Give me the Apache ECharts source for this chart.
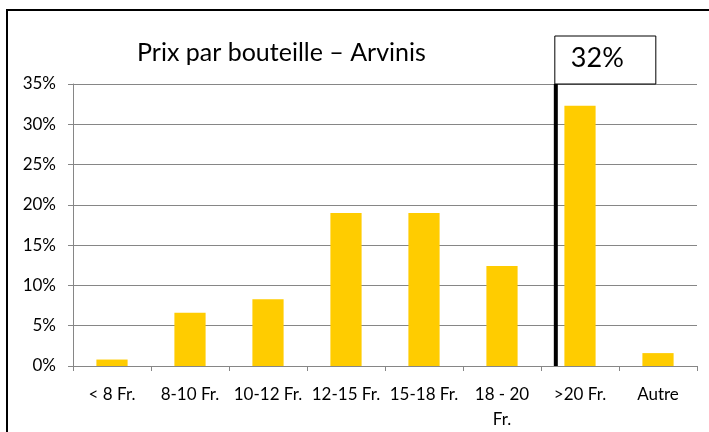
<!DOCTYPE html>
<html lang="fr">
<head>
    <meta charset="UTF-8">
    <title>Prix par bouteille</title>
    <style>
        html, body { margin: 0; padding: 0; background: #fff; }
        #chart1 { width: 709px; height: 432px; }
    </style>
</head>
<body>
<script src="https://cdn.jsdelivr.net/npm/echarts@6/dist/echarts.min.js"></script>
<div id="chart1"></div>
<script type="text/javascript">
    // données
    var categories = ['< 8 Fr.', '8-10 Fr.', '10-12 Fr.', '12-15 Fr.', '15-18 Fr.', '18 - 20\nFr.', '>20 Fr.', 'Autre'];
    var parts = [0.8, 6.6, 8.3, 19.0, 19.0, 12.4, 32.3, 1.6];
    var yTicks = [0, 5, 10, 15, 20, 25, 30, 35];
    // repère vertical (position sur l'axe des catégories, 0..8)
    var markerPos = [6.19];
    var markerText = '32%';

    var grid = { left: 73, right: 12, top: 84, bottom: 65 };
    var myChart1 = echarts.init(document.getElementById('chart1'));

    myChart1.setOption({
        textStyle: { fontFamily: 'Lato' },
        title: {
            text: 'Prix par bouteille \u2013 Arvinis',
            left: 132,
            top: 35,
            textStyle: { fontFamily: 'Lato', fontSize: 25, fontWeight: 'normal', color: '#000' }
        },
        grid: grid,
        xAxis: [{
            type: 'category',
            data: categories,
            axisLine: { lineStyle: { color: '#868686', width: 1 } },
            axisTick: { show: true, length: 5, lineStyle: { color: '#868686' } },
            axisLabel: { color: '#000', fontSize: 17, margin: 16, lineHeight: 25, interval: 0 }
        }, {
            type: 'value',
            min: 0,
            max: 8,
            show: false
        }],
        yAxis: {
            type: 'value',
            min: 0,
            max: 35,
            interval: 5,
            axisLine: { show: true, lineStyle: { color: '#868686' } },
            axisTick: { show: true, length: 5, lineStyle: { color: '#868686' } },
            axisLabel: {
                color: '#000',
                fontSize: 17,
                margin: 17,
                formatter: function (v) { return yTicks.indexOf(v) >= 0 ? v + '%' : ''; }
            },
            splitLine: { lineStyle: { color: '#868686', width: 1 } }
        },
        series: [{
            name: 'Prix',
            type: 'bar',
            data: parts,
            barWidth: '40%',
            itemStyle: { color: '#ffcc00' }
        }, {
            name: 'repere',
            type: 'line',
            xAxisIndex: 1,
            data: [[markerPos[0], 0], [markerPos[0], 35]],
            symbol: 'none',
            lineStyle: { color: '#000', width: 4 },
            z: 5
        }]
    });

    // cadre extérieur + étiquette 32% posée au sommet du repère
    var pt = myChart1.convertToPixel({ seriesIndex: 1 }, [markerPos[0], 35]);
    myChart1.setOption({
        graphic: [{
            type: 'rect',
            shape: { x: 7, y: 10, width: 720, height: 440 },
            style: { fill: 'none', stroke: '#000', lineWidth: 2 },
            silent: true
        }, {
            type: 'rect',
            shape: { x: pt[0] - 1, y: pt[1] - 48, width: 101, height: 48 },
            style: { fill: '#fff', stroke: '#000', lineWidth: 1 },
            z: 10
        }, {
            type: 'text',
            x: pt[0] + 15,
            y: pt[1] - 39,
            style: { text: markerText, fontFamily: 'Lato', fontSize: 27, fill: '#000' },
            z: 11
        }]
    });
</script>
</body>
</html>
